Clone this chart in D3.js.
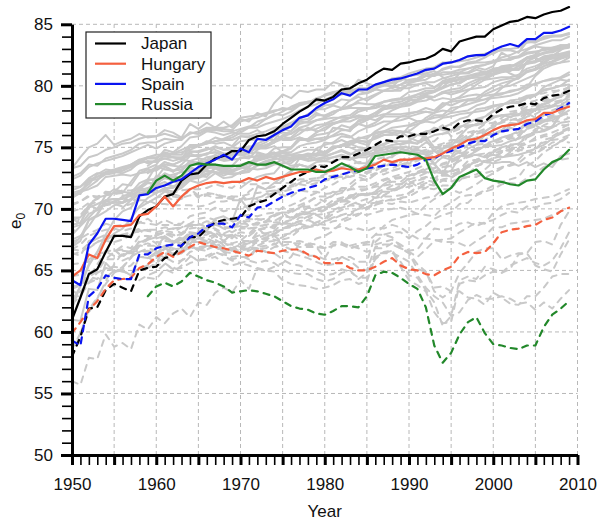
<!DOCTYPE html>
<html>
<head>
<meta charset="utf-8">
<script src="https://cdn.jsdelivr.net/npm/d3@7"></script>
<style>
  body { margin: 0; background: #ffffff; }
  text { font-family: "Liberation Sans", Arial, Helvetica, sans-serif; }
</style>
</head>
<body>
<svg id="chart" width="602" height="522"></svg>
<script>
// Period life expectancy at birth (e0), 1950-2009. Solid = female, dashed = male.

const yearTicks = [1950, 1960, 1970, 1980, 1990, 2000, 2010];
const e0Ticks = [50, 55, 60, 65, 70, 75, 80, 85];

// Highlighted countries
const japanF = [
  61.0, 62.8, 64.7, 65.1, 66.5, 67.8, 67.8, 67.7, 69.4, 69.9,
  70.2, 71.0, 71.2, 72.3, 72.8, 72.9, 73.6, 74.1, 74.3, 74.7,
  74.7, 75.6, 75.9, 76.0, 76.3, 76.9, 77.4, 77.9, 78.3, 78.9,
  78.8, 79.1, 79.7, 79.8, 80.2, 80.5, 81.0, 81.4, 81.3, 81.8,
  81.9, 82.1, 82.2, 82.5, 83.0, 82.8, 83.6, 83.8, 84.0, 84.0,
  84.6, 84.9, 85.2, 85.3, 85.6, 85.5, 85.8, 86.0, 86.1, 86.4];
const japanM = [
  58.0, 59.6, 61.9, 62.0, 63.4, 63.9, 63.6, 63.3, 65.0, 65.2,
  65.3, 66.0, 66.2, 67.0, 67.7, 67.7, 68.4, 68.9, 69.1, 69.2,
  69.3, 70.2, 70.5, 70.7, 71.2, 71.7, 72.2, 72.7, 73.0, 73.5,
  73.4, 73.8, 74.2, 74.2, 74.5, 74.8, 75.2, 75.6, 75.5, 75.9,
  75.9, 76.1, 76.1, 76.3, 76.6, 76.4, 77.0, 77.2, 77.2, 77.1,
  77.7, 78.1, 78.3, 78.4, 78.6, 78.5, 79.0, 79.2, 79.3, 79.6];
const hungaryF = [
  64.5, 65.0, 66.3, 66.0, 67.5, 68.6, 68.6, 68.7, 69.5, 69.6,
  70.2, 71.0, 70.2, 71.0, 71.6, 71.9, 72.1, 72.2, 72.1, 72.2,
  72.2, 72.5, 72.3, 72.6, 72.4, 72.6, 72.8, 73.0, 73.0, 73.2,
  73.0, 73.1, 73.3, 73.2, 73.2, 73.4, 73.6, 74.0, 73.8, 74.0,
  74.0, 74.1, 74.1, 74.2, 74.5, 74.9, 75.2, 75.6, 75.7, 76.0,
  76.4, 76.7, 76.8, 76.9, 77.2, 77.3, 77.8, 77.8, 78.1, 78.3];
const hungaryM = [
  59.9, 60.8, 61.8, 62.5, 63.5, 64.2, 64.3, 64.4, 65.2, 65.5,
  66.1, 66.5, 66.1, 66.5, 66.9, 67.3, 67.1, 66.9, 66.8, 66.6,
  66.4, 66.2, 66.6, 66.5, 66.4, 66.6, 66.7, 66.7, 66.3, 66.1,
  65.6, 65.6, 65.6, 65.2, 65.0, 65.0, 65.3, 65.7, 66.0, 65.4,
  65.1, 65.0, 64.7, 64.6, 65.0, 65.3, 66.2, 66.5, 66.4, 66.5,
  67.2, 68.1, 68.3, 68.4, 68.6, 68.7, 69.1, 69.3, 69.8, 70.1];
const spainF = [
  64.2, 63.8, 67.1, 68.0, 69.2, 69.2, 69.1, 69.0, 71.1, 71.2,
  71.7, 71.9, 72.2, 72.4, 72.9, 73.4, 73.7, 74.0, 74.4, 74.0,
  74.9, 74.6, 75.7, 75.6, 76.0, 76.4, 76.7, 77.4, 77.6, 78.2,
  78.6, 78.9, 79.4, 79.2, 79.7, 79.7, 80.1, 80.3, 80.5, 80.6,
  80.8, 81.0, 81.3, 81.4, 81.8, 81.9, 82.1, 82.4, 82.5, 82.5,
  82.9, 83.2, 83.4, 83.2, 83.8, 83.8, 84.3, 84.3, 84.5, 84.8];
const spainM = [
  59.3, 58.9, 62.9, 63.5, 64.6, 64.4, 64.3, 64.3, 66.3, 66.3,
  66.8, 67.0, 67.1, 67.0, 67.7, 68.0, 68.6, 68.8, 68.8, 68.5,
  69.5, 69.3, 70.1, 70.2, 70.6, 71.0, 71.3, 71.5, 71.7, 71.9,
  72.4, 72.6, 72.8, 73.0, 73.1, 73.3, 73.4, 73.5, 73.6, 73.5,
  73.4, 73.6, 74.0, 74.1, 74.5, 74.7, 75.0, 75.3, 75.5, 75.5,
  76.0, 76.3, 76.4, 76.5, 76.9, 77.1, 77.6, 77.8, 78.2, 78.6];
// Russia series begin in 1959
const russiaF = [
  71.3,
  72.3, 72.7, 72.3, 72.7, 73.5, 73.7, 73.6, 73.6, 73.5, 73.5,
  73.5, 73.8, 73.6, 73.6, 73.8, 73.5, 73.2, 73.2, 73.2, 73.0,
  73.0, 73.3, 73.7, 73.4, 73.0, 73.3, 74.3, 74.4, 74.5, 74.6,
  74.5, 74.4, 74.0, 72.3, 71.2, 71.7, 72.6, 72.9, 73.2, 72.5,
  72.3, 72.2, 72.0, 71.9, 72.3, 72.4, 73.2, 73.8, 74.1, 74.8];
const russiaM = [
  62.9,
  63.7, 64.0, 63.7, 64.1, 64.8, 64.5, 64.2, 64.0, 63.7, 63.2,
  63.3, 63.4, 63.3, 63.1, 62.9, 62.5, 62.1, 61.9, 61.8, 61.5,
  61.4, 61.7, 62.1, 62.1, 62.0, 62.9, 64.6, 64.9, 64.8, 64.4,
  63.9, 63.5, 62.0, 58.9, 57.5, 58.3, 59.8, 60.8, 61.2, 59.9,
  59.0, 58.9, 58.7, 58.6, 58.9, 58.9, 60.4, 61.4, 61.9, 62.5];

const highlightNames = ["Japan", "Hungary", "Spain", "Russia"];
const highlightColors = ["#000000", "#f4603f", "#0a14f0", "#22882a"];
const highlightStart = [1950, 1950, 1950, 1959];
const highlightFemale = [japanF, hungaryF, spainF, russiaF];
const highlightMale = [japanM, hungaryM, spainM, russiaM];

// Other countries, drawn in grey
const otherNames = ["Sweden", "Norway", "Netherlands", "Denmark", "Iceland", "Switzerland",
  "France", "England & Wales", "Scotland", "USA", "Canada", "Australia", "New Zealand",
  "Belgium", "Italy", "Austria", "West Germany", "East Germany", "Finland", "Portugal",
  "Ireland", "Czech Republic", "Slovakia", "Bulgaria", "Poland", "Latvia", "Lithuania",
  "Estonia", "Belarus", "Ukraine", "Taiwan", "Slovenia", "Israel", "Luxembourg"];
const otherStart = [1950, 1950, 1950, 1950, 1950, 1950, 1950, 1950, 1950, 1950, 1950, 1950, 1950,
  1950, 1950, 1950, 1956, 1956, 1950, 1950, 1950, 1950, 1950, 1950, 1958, 1959, 1959,
  1959, 1959, 1959, 1970, 1983, 1983, 1960];
const otherFemale = [
  [72.4, 72.7, 73.4, 73.7, 73.9, 74.1, 74.3, 74.6, 74.9, 75.2,
   74.9, 75.3, 75.5, 75.7, 76.2, 76.1, 76.5, 76.5, 76.5, 76.4,
   77.1, 77.3, 77.4, 77.7, 77.9, 78.2, 78.1, 78.6, 78.7, 78.8,
   78.8, 79.1, 79.4, 79.6, 79.7, 79.7, 80.0, 80.2, 79.9, 80.6,
   80.4, 80.5, 80.8, 80.8, 81.4, 81.6, 81.5, 81.8, 81.9, 81.9,
   82.0, 82.1, 82.1, 82.4, 82.7, 82.8, 82.9, 83.0, 83.2, 83.3],
  [73.3, 73.5, 74.2, 74.4, 74.8, 75.0, 75.3, 75.4, 75.7, 75.9,
   75.9, 76.1, 75.9, 75.7, 76.1, 76.3, 76.6, 76.6, 76.6, 76.8,
   77.4, 77.5, 77.6, 77.8, 78.0, 78.1, 78.1, 78.5, 78.7, 78.8,
   79.3, 79.5, 79.6, 79.5, 79.6, 79.4, 79.7, 79.6, 79.6, 79.8,
   79.8, 80.1, 80.3, 80.3, 80.6, 80.8, 81.0, 81.0, 81.3, 81.1,
   81.4, 81.5, 81.5, 81.9, 82.3, 82.5, 82.7, 82.7, 83.0, 83.1],
  [72.6, 72.9, 73.6, 73.5, 74.1, 74.3, 74.5, 74.8, 75.3, 75.4,
   75.4, 75.7, 75.6, 75.6, 76.2, 76.1, 76.4, 76.4, 76.3, 76.3,
   76.5, 76.7, 76.8, 77.3, 77.7, 77.6, 77.9, 78.4, 78.6, 79.0,
   79.2, 79.4, 79.7, 79.6, 79.8, 79.6, 79.8, 80.0, 80.0, 79.8,
   80.1, 80.1, 80.2, 79.9, 80.3, 80.4, 80.5, 80.6, 80.7, 80.5,
   80.6, 80.7, 80.7, 80.9, 81.4, 81.6, 81.9, 82.3, 82.3, 82.7],
  [71.5, 71.8, 72.3, 72.4, 72.8, 72.9, 73.3, 73.5, 73.9, 74.2,
   74.4, 74.4, 74.5, 74.6, 74.8, 75.1, 75.3, 75.5, 75.6, 75.6,
   75.9, 75.8, 75.9, 76.0, 76.4, 76.5, 76.3, 77.1, 77.0, 77.2,
   77.3, 77.4, 77.4, 77.4, 77.5, 77.5, 77.5, 77.7, 77.7, 77.7,
   77.8, 77.9, 77.9, 77.8, 78.0, 77.9, 78.3, 78.5, 78.7, 78.9,
   79.0, 79.1, 79.2, 79.4, 79.8, 80.2, 80.4, 80.5, 80.7, 81.1],
  [73.3, 74.2, 75.0, 75.3, 76.0, 75.2, 75.5, 75.7, 76.1, 75.8,
   75.9, 76.4, 76.2, 75.8, 76.9, 76.5, 77.0, 76.6, 77.1, 76.6,
   77.3, 77.1, 77.8, 77.5, 78.6, 79.3, 79.0, 79.6, 79.5, 79.7,
   79.7, 80.3, 80.1, 79.6, 80.5, 80.2, 80.0, 80.3, 79.8, 80.1,
   80.5, 80.6, 81.0, 81.2, 80.7, 80.3, 81.0, 81.1, 81.5, 81.3,
   81.6, 82.7, 82.3, 82.4, 82.9, 83.2, 83.1, 82.9, 83.3, 83.3],
  [70.9, 71.4, 72.2, 72.6, 72.9, 73.0, 72.9, 73.2, 73.8, 74.1,
   74.1, 74.6, 74.4, 74.4, 75.2, 75.2, 75.4, 75.8, 75.6, 75.8,
   76.2, 76.6, 77.1, 77.3, 77.6, 77.9, 78.3, 78.6, 78.6, 78.8,
   78.8, 79.2, 79.4, 79.4, 79.8, 79.8, 80.0, 80.1, 80.3, 80.6,
   80.8, 81.0, 81.2, 81.5, 81.8, 81.9, 82.0, 82.1, 82.3, 82.5,
   82.6, 83.0, 83.0, 83.1, 83.5, 83.6, 83.8, 84.0, 84.1, 84.2],
  [69.2, 68.8, 70.3, 70.0, 71.1, 71.3, 71.3, 72.2, 73.1, 73.3,
   73.6, 74.5, 74.2, 74.1, 75.0, 75.1, 75.5, 75.3, 75.4, 75.1,
   75.9, 75.9, 76.1, 76.3, 76.6, 76.7, 77.0, 77.4, 77.6, 78.0,
   78.4, 78.5, 78.9, 78.8, 79.3, 79.4, 79.7, 80.3, 80.6, 80.7,
   81.0, 81.2, 81.4, 81.5, 81.9, 81.9, 82.1, 82.4, 82.5, 82.6,
   82.8, 82.9, 82.9, 82.7, 83.6, 83.6, 84.0, 84.1, 84.1, 84.3],
  [71.2, 71.2, 72.4, 72.6, 73.0, 73.0, 73.1, 73.4, 73.7, 73.9,
   73.8, 74.1, 73.9, 74.1, 74.7, 74.6, 74.8, 75.1, 74.8, 75.0,
   75.5, 75.6, 75.6, 75.7, 76.0, 76.2, 76.1, 76.5, 76.4, 76.5,
   76.8, 77.0, 77.1, 77.4, 77.6, 77.5, 77.8, 78.1, 78.2, 78.3,
   78.8, 78.9, 79.2, 79.1, 79.5, 79.3, 79.5, 79.7, 79.8, 79.9,
   80.3, 80.5, 80.6, 80.6, 81.1, 81.3, 81.6, 81.8, 81.9, 82.3],
  [68.7, 68.9, 70.1, 70.4, 70.7, 70.8, 70.8, 71.1, 71.5, 71.5,
   71.3, 71.6, 71.4, 71.7, 72.3, 72.1, 72.4, 72.9, 72.5, 72.6,
   73.0, 73.3, 73.2, 73.3, 73.6, 73.7, 73.7, 74.3, 74.4, 74.3,
   74.5, 74.9, 75.2, 75.3, 75.6, 75.4, 75.8, 76.0, 76.1, 75.9,
   76.7, 76.9, 77.1, 77.0, 77.4, 77.5, 77.7, 77.8, 77.9, 78.0,
   78.3, 78.5, 78.6, 78.7, 79.1, 79.2, 79.6, 79.8, 80.0, 80.5],
  [71.1, 71.4, 71.6, 71.9, 72.6, 72.7, 72.8, 72.7, 72.9, 73.2,
   73.1, 73.6, 73.5, 73.4, 73.7, 73.8, 73.9, 74.2, 74.0, 74.4,
   74.9, 75.0, 75.1, 75.4, 75.9, 76.6, 76.8, 77.2, 77.3, 77.8,
   77.5, 77.9, 78.1, 78.2, 78.2, 78.2, 78.2, 78.4, 78.3, 78.5,
   78.8, 78.9, 79.1, 78.8, 79.0, 78.9, 79.0, 79.2, 79.3, 79.2,
   79.3, 79.4, 79.5, 79.7, 80.1, 80.1, 80.4, 80.6, 80.6, 80.9],
  [70.9, 71.3, 71.8, 72.3, 73.0, 73.2, 73.4, 73.6, 74.0, 74.2,
   74.2, 74.4, 74.5, 74.8, 75.1, 75.2, 75.3, 75.5, 75.7, 76.0,
   76.4, 76.6, 76.6, 76.9, 77.1, 77.3, 77.6, 78.0, 78.3, 78.5,
   78.9, 79.1, 79.3, 79.5, 79.7, 79.8, 80.0, 80.1, 80.2, 80.4,
   80.8, 80.9, 81.0, 80.8, 81.1, 81.1, 81.3, 81.4, 81.6, 81.7,
   81.9, 82.1, 82.2, 82.3, 82.6, 82.7, 83.0, 83.1, 83.2, 83.3],
  [71.8, 71.8, 72.5, 72.9, 72.9, 73.0, 73.1, 73.6, 74.0, 73.7,
   73.9, 74.3, 74.2, 74.0, 73.9, 74.1, 74.0, 74.4, 74.1, 74.5,
   74.5, 74.9, 75.3, 75.6, 75.6, 76.5, 76.8, 77.3, 77.7, 78.1,
   78.1, 78.4, 78.2, 78.8, 79.1, 78.8, 79.2, 79.6, 79.6, 79.6,
   80.2, 80.4, 80.5, 80.9, 80.9, 81.0, 81.1, 81.4, 81.6, 81.7,
   82.0, 82.3, 82.5, 82.8, 83.0, 83.3, 83.5, 83.7, 83.7, 84.0],
  [71.3, 71.5, 72.0, 72.8, 73.2, 73.1, 73.3, 73.6, 73.8, 73.8,
   73.9, 74.1, 74.2, 74.2, 74.3, 74.3, 74.5, 74.6, 74.4, 74.4,
   74.7, 75.1, 75.0, 75.2, 75.4, 75.9, 75.7, 76.1, 76.6, 76.3,
   76.4, 76.9, 77.1, 77.1, 77.4, 77.4, 77.2, 77.6, 78.0, 78.3,
   78.4, 78.7, 78.8, 79.1, 79.5, 79.7, 79.8, 80.2, 80.5, 80.6,
   80.9, 81.1, 81.2, 81.6, 81.8, 81.9, 82.2, 82.3, 82.4, 82.7],
  [68.5, 68.7, 69.6, 69.9, 70.6, 70.5, 71.0, 71.3, 72.1, 72.4,
   73.5, 73.2, 73.1, 73.2, 73.9, 73.7, 73.8, 74.2, 74.0, 74.2,
   74.6, 74.5, 75.0, 75.0, 75.4, 75.7, 75.8, 76.4, 76.4, 76.8,
   76.9, 77.2, 77.5, 77.6, 78.1, 78.1, 78.2, 78.7, 78.9, 79.0,
   79.5, 79.6, 79.8, 79.8, 80.4, 80.6, 80.7, 80.8, 80.9, 80.9,
   81.0, 81.3, 81.3, 81.3, 81.9, 82.0, 82.4, 82.5, 82.5, 82.7],
  [67.5, 67.8, 68.6, 69.6, 70.7, 70.8, 70.5, 71.3, 71.7, 72.4,
   72.3, 72.9, 72.6, 73.1, 73.7, 73.8, 74.2, 74.3, 74.0, 74.4,
   74.9, 75.0, 75.2, 75.1, 75.6, 75.9, 76.1, 76.6, 76.8, 77.2,
   77.4, 77.7, 78.2, 78.3, 78.8, 79.0, 79.3, 79.6, 79.9, 80.1,
   80.3, 80.4, 80.8, 81.0, 81.3, 81.5, 81.6, 81.9, 82.0, 82.3,
   82.7, 82.9, 82.9, 82.7, 83.6, 83.5, 83.9, 84.0, 84.0, 84.2],
  [67.9, 68.6, 69.3, 70.0, 70.4, 70.5, 70.5, 70.8, 71.5, 71.7,
   71.9, 72.8, 72.6, 72.5, 73.4, 73.1, 73.5, 73.4, 73.3, 73.0,
   73.4, 73.7, 74.1, 74.3, 74.5, 74.7, 75.0, 75.6, 75.6, 76.0,
   76.1, 76.3, 76.8, 76.6, 77.1, 77.3, 77.6, 78.2, 78.6, 78.7,
   79.0, 79.1, 79.3, 79.5, 79.8, 80.1, 80.3, 80.8, 81.0, 81.1,
   81.2, 81.6, 81.7, 81.6, 82.2, 82.3, 82.7, 82.9, 83.1, 83.2],
  [71.1, 71.0, 71.6, 72.1,
   72.0, 72.6, 72.6, 72.6, 73.3, 73.2, 73.4, 73.6, 73.4, 73.4,
   73.6, 73.8, 74.0, 74.2, 74.5, 74.6, 74.9, 75.6, 75.7, 76.2,
   76.6, 76.9, 77.2, 77.4, 77.9, 78.1, 78.4, 78.7, 78.8, 78.9,
   79.1, 79.3, 79.6, 79.6, 79.9, 80.1, 80.2, 80.6, 80.8, 81.0,
   81.2, 81.4, 81.4, 81.4, 81.9, 82.0, 82.3, 82.5, 82.6, 82.8],
  [70.1, 70.7, 71.2, 71.5,
   71.6, 72.0, 71.8, 72.2, 72.8, 72.9, 73.3, 73.4, 73.0, 73.1,
   73.3, 73.4, 73.9, 74.1, 74.3, 74.3, 74.4, 74.6, 74.8, 74.8,
   74.6, 75.1, 75.1, 75.2, 75.5, 75.5, 75.7, 76.0, 76.0, 76.2,
   76.3, 76.8, 77.4, 77.8, 78.3, 78.8, 79.1, 79.6, 80.1, 80.5,
   80.9, 81.2, 81.3, 81.3, 81.8, 82.0, 82.3, 82.4, 82.6, 82.6],
  [69.3, 69.3, 70.3, 70.9, 71.1, 71.6, 71.4, 71.3, 71.8, 72.2,
   71.9, 72.2, 71.8, 72.0, 72.4, 72.5, 72.8, 73.3, 73.3, 73.5,
   74.2, 74.1, 74.8, 75.2, 75.4, 76.0, 76.3, 76.9, 77.1, 77.6,
   77.6, 77.9, 78.1, 78.4, 78.6, 78.5, 78.5, 78.7, 78.8, 78.9,
   78.9, 79.3, 79.4, 79.5, 80.2, 80.3, 80.6, 80.6, 80.8, 81.0,
   81.0, 81.5, 81.5, 81.8, 82.3, 82.5, 83.1, 83.1, 83.3, 83.3],
  [61.0, 60.9, 63.5, 63.4, 65.6, 64.9, 65.0, 64.6, 66.1, 66.0,
   66.5, 66.0, 67.2, 67.5, 67.1, 68.2, 68.2, 69.2, 69.4, 69.0,
   70.8, 69.9, 71.8, 71.6, 72.1, 72.6, 73.1, 74.1, 74.0, 74.9,
   75.2, 75.4, 75.9, 75.8, 76.3, 76.6, 76.8, 77.1, 77.1, 77.5,
   77.5, 77.7, 77.9, 77.8, 78.5, 78.7, 78.8, 78.9, 79.0, 79.5,
   79.9, 80.2, 80.4, 80.6, 81.2, 81.3, 82.1, 82.2, 82.3, 82.5],
  [66.9, 67.4, 69.1, 69.4, 69.8, 70.3, 70.5, 70.8, 71.2, 71.3,
   71.9, 71.9, 72.3, 71.9, 72.5, 72.7, 72.6, 73.3, 73.1, 73.0,
   73.5, 73.6, 73.6, 73.9, 74.1, 74.6, 74.6, 75.1, 75.3, 75.4,
   75.6, 76.0, 76.4, 76.4, 76.9, 76.7, 77.0, 77.5, 77.5, 77.5,
   77.7, 77.9, 78.2, 78.0, 78.6, 78.4, 78.7, 78.9, 78.8, 78.9,
   79.2, 79.8, 80.3, 80.7, 81.2, 81.4, 81.8, 82.0, 82.3, 82.5],
  [67.0, 67.7, 69.1, 69.5, 70.6, 71.4, 72.0, 71.9, 72.9, 73.0,
   73.4, 73.5, 73.1, 73.4, 73.6, 73.6, 73.7, 73.6, 73.2, 72.9,
   72.9, 73.0, 73.6, 73.5, 73.7, 74.0, 74.0, 74.2, 74.1, 74.0,
   73.9, 74.2, 74.3, 74.0, 74.3, 74.4, 74.6, 75.0, 75.2, 75.3,
   75.5, 76.0, 76.3, 76.4, 76.6, 76.9, 77.3, 77.5, 78.1, 78.2,
   78.4, 78.5, 78.6, 78.6, 79.0, 79.2, 79.9, 80.2, 80.5, 80.4],
  [61.9, 63.8, 65.5, 66.5, 67.9, 69.1, 69.8, 70.1, 71.1, 71.4,
   72.7, 72.6, 72.8, 73.0, 73.1, 73.1, 73.4, 73.3, 72.9, 72.8,
   72.9, 73.1, 73.6, 73.8, 74.0, 74.2, 74.2, 74.4, 74.3, 74.4,
   74.3, 74.5, 74.7, 74.4, 74.8, 74.9, 75.0, 75.3, 75.5, 75.2,
   75.4, 75.3, 76.1, 76.6, 76.4, 76.4, 76.7, 76.8, 76.8, 77.0,
   77.5, 77.6, 77.7, 77.7, 78.0, 78.1, 78.3, 78.4, 78.7, 79.1],
  [62.5, 63.7, 65.4, 66.5, 67.4, 68.0, 68.4, 69.2, 70.2, 70.9,
   71.3, 71.7, 71.7, 72.1, 72.6, 72.9, 73.1, 73.0, 72.7, 73.0,
   73.6, 73.1, 73.5, 73.7, 73.7, 73.5, 73.3, 73.6, 73.4, 73.8,
   73.9, 73.8, 74.1, 74.0, 74.2, 74.2, 74.5, 74.6, 74.7, 74.6,
   74.7, 74.4, 74.6, 74.7, 74.6, 74.9, 74.6, 74.3, 74.7, 75.1,
   75.1, 75.2, 75.5, 75.7, 76.0, 76.2, 76.3, 76.6, 77.0, 77.1],
  [70.1, 70.5,
   70.9, 71.4, 71.2, 71.9, 72.4, 72.6, 72.9, 73.0, 72.9, 73.0,
   73.3, 73.4, 74.1, 74.2, 74.5, 74.5, 74.4, 74.3, 74.5, 74.4,
   74.4, 74.9, 75.2, 75.0, 74.7, 74.8, 75.1, 75.2, 75.5, 75.5,
   75.5, 75.3, 75.7, 76.0, 76.1, 76.4, 76.6, 77.0, 77.3, 77.5,
   77.9, 78.4, 78.8, 78.9, 79.2, 79.3, 79.7, 79.8, 80.0, 80.1],
  [73.0,
   73.2, 73.8, 73.6, 73.9, 74.5, 74.2, 74.5, 74.6, 74.3, 74.5,
   74.4, 74.2, 74.3, 74.3, 74.2, 73.9, 73.5, 73.6, 73.4, 73.2,
   73.1, 73.2, 73.4, 73.5, 73.2, 73.5, 74.7, 74.8, 75.0, 75.0,
   74.6, 74.6, 74.4, 73.6, 72.9, 73.1, 74.2, 74.9, 75.2, 76.0,
   76.1, 76.3, 76.6, 76.4, 77.1, 76.8, 76.4, 76.7, 77.6, 78.0],
  [72.3,
   72.5, 73.4, 73.0, 73.6, 74.3, 74.4, 74.4, 75.0, 74.8, 74.8,
   75.0, 74.8, 74.9, 74.9, 75.1, 74.6, 74.4, 74.3, 74.3, 74.4,
   75.4, 75.3, 75.6, 75.3, 75.0, 74.9, 76.2, 76.3, 76.2, 76.3,
   76.2, 76.0, 75.9, 75.0, 74.9, 75.1, 75.9, 76.6, 76.9, 77.0,
   77.4, 77.6, 77.5, 77.7, 77.8, 77.4, 77.1, 77.2, 77.6, 78.6],
  [71.6,
   72.1, 72.5, 72.3, 72.7, 73.3, 73.2, 73.9, 74.1, 73.9, 74.0,
   74.1, 74.3, 74.1, 74.3, 74.5, 74.3, 74.1, 74.3, 74.3, 74.1,
   74.2, 74.5, 74.8, 74.5, 74.4, 74.5, 74.9, 75.0, 75.0, 74.6,
   74.6, 74.8, 74.6, 73.7, 72.8, 74.2, 75.4, 75.8, 75.5, 76.1,
   76.0, 76.4, 77.0, 76.9, 77.8, 78.1, 78.5, 78.8, 79.2, 80.0],
  [73.5,
   74.0, 74.8, 74.6, 75.1, 75.8, 75.9, 76.3, 76.2, 76.0, 76.2,
   76.1, 76.1, 76.4, 76.0, 76.2, 75.6, 75.6, 75.8, 75.6, 75.7,
   75.8, 75.9, 76.1, 75.9, 75.4, 75.2, 75.9, 76.2, 76.4, 76.3,
   75.8, 75.5, 75.6, 74.7, 74.2, 74.0, 74.3, 74.3, 74.4, 74.2,
   74.4, 74.2, 74.3, 74.4, 74.6, 74.9, 75.2, 75.7, 76.2, 76.5],
  [72.9,
   73.3, 73.8, 73.6, 73.9, 74.6, 74.7, 74.9, 74.8, 74.5, 74.5,
   74.4, 74.5, 74.6, 74.4, 74.6, 74.1, 74.0, 74.1, 73.9, 74.0,
   74.1, 74.2, 74.4, 74.2, 73.7, 73.7, 74.6, 74.6, 74.8, 75.0,
   75.0, 74.4, 74.0, 73.0, 72.9, 72.6, 72.9, 73.4, 74.0, 73.8,
   73.7, 73.8, 73.8, 73.5, 73.8, 73.4, 73.7, 73.4, 74.3, 74.5],
  [71.7, 72.2, 72.6, 72.8, 72.9, 73.7, 73.9, 74.1, 74.3, 74.5,
   74.6, 74.9, 75.2, 75.5, 75.7, 75.9, 76.1, 76.3, 76.6, 76.7,
   76.8, 77.1, 77.2, 77.4, 77.5, 77.8, 77.9, 78.0, 78.4, 78.6,
   79.2, 79.3, 79.6, 79.7, 79.9, 80.8, 81.4, 81.7, 81.9, 82.0],
  [75.3, 75.8, 75.7, 76.3, 76.7, 77.1, 77.2,
   77.4, 77.1, 77.2, 77.6, 77.6, 78.2, 78.3, 78.8, 78.8, 79.3,
   79.6, 79.9, 80.0, 80.3, 80.6, 80.9, 81.6, 81.9, 82.2, 82.4],
  [76.5, 76.9, 77.2, 77.6, 78.1, 78.3, 78.5,
   78.5, 78.8, 79.1, 79.1, 79.4, 79.5, 79.6, 80.0, 80.3, 80.7,
   81.0, 81.4, 81.6, 81.8, 82.3, 82.4, 82.6, 82.8, 83.0, 83.4],
  [72.2, 72.5, 72.4, 72.3, 72.8, 72.6, 73.2, 73.6, 73.4, 73.2,
   73.3, 73.4, 74.5, 74.3, 74.9, 75.0, 75.0, 75.8, 75.5, 75.7,
   75.6, 76.6, 76.5, 76.3, 77.2, 77.4, 77.8, 78.3, 78.4, 78.5,
   78.5, 78.9, 79.4, 79.6, 79.9, 80.5, 80.2, 80.6, 80.7, 80.7,
   81.3, 81.4, 81.0, 80.7, 82.0, 82.3, 81.8, 82.4, 82.9, 83.3]
];
const otherMale = [
  [69.8, 70.0, 70.5, 70.8, 71.1, 71.2, 71.3, 71.1, 71.5, 71.6,
   71.2, 71.6, 71.3, 71.5, 71.6, 71.6, 71.7, 72.0, 71.8, 71.7,
   72.2, 72.0, 72.0, 72.1, 72.1, 72.1, 72.1, 72.4, 72.4, 72.5,
   72.8, 73.1, 73.4, 73.6, 73.8, 73.8, 74.0, 74.2, 74.2, 74.8,
   74.8, 74.9, 75.4, 75.5, 76.1, 76.2, 76.5, 76.7, 76.9, 77.0,
   77.4, 77.6, 77.7, 77.9, 78.3, 78.4, 78.7, 78.9, 79.1, 79.3],
  [70.3, 70.6, 71.1, 71.0, 71.3, 71.2, 71.4, 71.2, 71.3, 71.4,
   71.3, 71.5, 71.0, 70.9, 71.1, 71.0, 71.3, 71.2, 71.0, 71.0,
   71.0, 71.2, 71.3, 71.4, 71.5, 71.7, 71.9, 72.2, 72.3, 72.3,
   72.3, 72.6, 72.6, 72.6, 72.8, 72.6, 72.9, 72.8, 73.1, 73.3,
   73.4, 74.0, 74.2, 74.3, 74.8, 74.8, 75.3, 75.5, 75.5, 75.6,
   76.0, 76.2, 76.5, 77.0, 77.5, 77.7, 78.1, 78.3, 78.4, 78.7],
  [70.4, 70.6, 71.0, 70.9, 71.4, 71.3, 71.5, 71.5, 71.7, 71.5,
   71.5, 71.6, 71.2, 71.0, 71.6, 71.1, 71.2, 71.2, 70.9, 70.8,
   70.8, 70.9, 70.8, 71.2, 71.5, 71.4, 71.6, 72.1, 72.1, 72.5,
   72.6, 72.7, 72.8, 72.9, 73.0, 72.9, 73.1, 73.5, 73.6, 73.6,
   73.8, 74.1, 74.2, 74.0, 74.6, 74.6, 74.7, 75.2, 75.2, 75.3,
   75.5, 75.8, 76.0, 76.3, 76.9, 77.2, 77.6, 78.0, 78.3, 78.5],
  [69.1, 69.3, 69.8, 69.9, 70.3, 70.4, 70.2, 70.4, 70.7, 70.7,
   70.4, 70.4, 70.3, 70.3, 70.3, 70.2, 70.3, 70.6, 70.6, 70.7,
   70.7, 70.8, 70.9, 71.1, 71.3, 71.1, 71.0, 71.5, 71.4, 71.4,
   71.2, 71.3, 71.5, 71.6, 71.6, 71.6, 71.8, 71.9, 72.0, 72.0,
   72.0, 72.3, 72.5, 72.5, 72.7, 72.7, 73.1, 73.6, 73.8, 74.2,
   74.5, 74.7, 74.8, 75.0, 75.3, 75.8, 76.0, 76.2, 76.5, 76.9],
  [67.8, 69.5, 70.3, 70.6, 70.4, 70.6, 70.9, 70.6, 70.9, 70.5,
   70.9, 71.1, 70.7, 70.8, 71.6, 70.9, 71.1, 70.9, 70.9, 71.0,
   70.7, 71.4, 71.9, 71.6, 71.8, 72.3, 73.0, 73.6, 73.4, 73.6,
   73.5, 73.9, 74.2, 74.0, 74.5, 74.6, 74.8, 75.2, 74.3, 75.0,
   75.1, 75.0, 75.9, 76.4, 76.8, 75.9, 76.2, 76.6, 77.0, 77.5,
   78.0, 78.4, 78.6, 79.0, 78.8, 79.3, 79.4, 79.6, 79.6, 79.9],
  [66.7, 67.1, 67.8, 68.1, 68.3, 68.4, 68.2, 68.4, 68.9, 69.2,
   68.7, 69.1, 68.8, 68.8, 69.4, 69.6, 69.7, 70.1, 69.8, 70.0,
   70.0, 70.3, 70.6, 70.9, 71.2, 71.5, 71.8, 72.0, 71.9, 72.1,
   72.3, 72.4, 72.7, 72.6, 73.0, 73.2, 73.3, 73.6, 73.7, 73.9,
   74.0, 74.1, 74.4, 74.9, 75.2, 75.4, 75.8, 76.2, 76.4, 76.9,
   77.0, 77.4, 77.9, 78.0, 78.6, 78.8, 79.1, 79.4, 79.7, 79.8],
  [63.4, 62.9, 64.5, 64.3, 65.2, 65.3, 65.2, 66.1, 67.0, 67.0,
   67.0, 67.7, 67.3, 67.2, 68.0, 67.8, 68.2, 67.9, 67.9, 67.6,
   68.4, 68.4, 68.5, 68.7, 68.9, 68.9, 69.1, 69.5, 69.7, 70.0,
   70.2, 70.4, 70.7, 70.7, 71.1, 71.2, 71.4, 72.0, 72.4, 72.5,
   72.7, 72.9, 73.1, 73.3, 73.7, 73.9, 74.1, 74.6, 74.8, 75.0,
   75.3, 75.5, 75.7, 75.8, 76.7, 76.8, 77.2, 77.5, 77.6, 77.8],
  [66.4, 66.2, 67.4, 67.6, 67.9, 67.7, 67.9, 68.0, 68.2, 68.3,
   68.0, 68.0, 67.9, 67.9, 68.4, 68.5, 68.4, 68.7, 68.5, 68.5,
   69.0, 69.2, 69.1, 69.2, 69.5, 69.7, 69.7, 70.1, 70.2, 70.3,
   70.8, 71.1, 71.3, 71.6, 71.8, 71.8, 72.1, 72.4, 72.6, 72.8,
   73.0, 73.3, 73.6, 73.7, 74.2, 74.2, 74.5, 74.7, 74.9, 75.1,
   75.5, 75.8, 76.0, 76.2, 76.7, 77.0, 77.4, 77.6, 77.9, 78.5],
  [64.6, 64.6, 65.9, 66.3, 66.5, 66.2, 66.2, 66.5, 66.6, 66.5,
   66.2, 66.4, 66.2, 66.4, 66.9, 66.7, 66.6, 67.3, 66.7, 66.8,
   67.2, 67.4, 67.2, 67.4, 67.8, 67.9, 68.0, 68.4, 68.5, 68.6,
   69.0, 69.3, 69.5, 69.7, 70.0, 70.1, 70.3, 70.6, 70.8, 70.8,
   71.3, 71.6, 72.0, 71.9, 72.3, 72.2, 72.5, 72.6, 72.6, 72.9,
   73.1, 73.4, 73.5, 73.7, 74.3, 74.6, 75.0, 75.1, 75.4, 75.9],
  [65.5, 65.6, 65.7, 66.0, 66.6, 66.6, 66.7, 66.4, 66.5, 66.8,
   66.6, 67.0, 66.8, 66.6, 66.8, 66.8, 66.7, 67.0, 66.6, 66.8,
   67.0, 67.2, 67.4, 67.6, 68.2, 68.8, 69.1, 69.5, 69.6, 70.0,
   70.0, 70.4, 70.8, 71.0, 71.1, 71.2, 71.2, 71.4, 71.4, 71.7,
   71.8, 72.0, 72.3, 72.2, 72.4, 72.5, 73.0, 73.6, 73.8, 73.9,
   74.1, 74.3, 74.4, 74.7, 75.1, 75.2, 75.4, 75.6, 75.7, 76.0],
  [66.3, 66.5, 66.9, 67.3, 67.8, 67.8, 67.8, 67.8, 68.2, 68.3,
   68.3, 68.5, 68.4, 68.5, 68.7, 68.7, 68.8, 68.9, 69.0, 69.2,
   69.4, 69.5, 69.4, 69.6, 69.7, 70.1, 70.3, 70.6, 71.0, 71.3,
   71.7, 72.0, 72.4, 72.7, 73.0, 73.0, 73.3, 73.5, 73.7, 73.8,
   74.4, 74.6, 74.8, 74.8, 75.1, 75.2, 75.6, 75.8, 76.1, 76.3,
   76.7, 77.0, 77.2, 77.4, 77.8, 78.0, 78.3, 78.5, 78.7, 78.9],
  [66.7, 66.6, 67.2, 67.6, 67.4, 67.3, 67.5, 67.9, 68.3, 67.7,
   67.9, 68.1, 67.9, 67.6, 67.2, 67.6, 67.4, 67.8, 67.4, 67.9,
   67.4, 68.0, 68.6, 68.7, 68.4, 69.4, 69.8, 70.1, 70.5, 71.0,
   71.0, 71.4, 71.3, 72.0, 72.6, 72.3, 72.8, 73.1, 73.1, 73.3,
   73.9, 74.3, 74.6, 75.0, 75.0, 75.2, 75.5, 75.8, 76.2, 76.5,
   76.6, 77.1, 77.4, 77.8, 78.1, 78.5, 78.8, 79.1, 79.2, 79.4],
  [67.3, 67.6, 68.0, 68.3, 68.8, 68.6, 68.7, 68.8, 68.9, 68.8,
   68.7, 68.7, 68.7, 68.7, 68.6, 68.4, 68.4, 68.8, 68.4, 68.1,
   68.5, 68.6, 68.9, 68.9, 69.4, 69.7, 69.2, 69.6, 70.1, 70.0,
   70.2, 70.7, 70.9, 71.1, 71.2, 71.2, 70.9, 71.1, 71.5, 71.9,
   72.5, 72.9, 73.2, 73.6, 74.3, 74.3, 74.6, 75.2, 75.6, 76.0,
   76.1, 76.4, 76.8, 77.2, 77.6, 78.0, 78.1, 78.3, 78.5, 78.8],
  [63.5, 63.8, 64.8, 65.1, 65.9, 65.9, 66.3, 66.6, 67.3, 67.5,
   67.7, 67.6, 67.4, 67.3, 68.0, 67.8, 67.9, 68.3, 67.8, 67.9,
   67.8, 67.8, 68.3, 68.4, 68.6, 68.8, 69.1, 69.8, 69.7, 70.0,
   70.0, 70.5, 70.8, 70.9, 71.2, 71.1, 71.4, 72.0, 72.2, 72.2,
   72.7, 72.9, 73.0, 72.9, 73.4, 73.5, 73.9, 74.2, 74.4, 74.5,
   74.6, 75.0, 75.2, 75.3, 76.0, 76.3, 76.8, 77.1, 77.1, 77.4],
  [63.7, 63.8, 64.4, 65.5, 66.5, 66.7, 66.1, 66.7, 67.1, 67.6,
   67.2, 67.8, 67.3, 67.5, 68.1, 67.9, 68.5, 68.4, 68.0, 68.3,
   69.0, 69.0, 69.2, 69.0, 69.6, 69.7, 69.9, 70.3, 70.6, 70.9,
   70.6, 71.1, 71.7, 71.7, 72.3, 72.4, 72.8, 73.2, 73.3, 73.6,
   73.7, 73.9, 74.3, 74.6, 74.9, 75.0, 75.3, 75.6, 75.8, 76.2,
   76.9, 77.2, 77.3, 77.2, 78.0, 78.1, 78.5, 78.7, 78.8, 79.2],
  [62.5, 63.3, 64.0, 64.8, 65.2, 65.0, 65.1, 65.4, 66.1, 66.1,
   65.6, 66.8, 66.4, 66.3, 67.1, 66.6, 67.0, 66.9, 66.5, 66.4,
   66.5, 66.6, 67.0, 67.3, 67.4, 67.7, 68.1, 68.5, 68.6, 68.9,
   69.0, 69.2, 69.5, 69.5, 70.0, 70.4, 70.9, 71.5, 71.9, 72.0,
   72.4, 72.6, 72.9, 73.0, 73.4, 73.5, 73.9, 74.3, 74.8, 75.0,
   75.4, 75.8, 75.9, 76.0, 76.5, 76.7, 77.1, 77.4, 77.7, 77.7],
  [66.6, 66.5, 67.0, 67.2,
   66.9, 67.4, 67.3, 67.2, 67.8, 67.6, 67.7, 67.9, 67.4, 67.2,
   67.4, 67.4, 67.8, 68.0, 68.2, 68.3, 68.7, 69.3, 69.3, 69.8,
   69.9, 70.3, 70.6, 70.9, 71.4, 71.6, 71.9, 72.3, 72.5, 72.6,
   72.7, 73.0, 73.3, 73.3, 73.6, 73.8, 74.1, 74.6, 74.9, 75.2,
   75.4, 75.7, 75.8, 76.0, 76.6, 76.8, 77.2, 77.4, 77.6, 77.8],
  [65.8, 66.1, 66.5, 66.6,
   66.4, 67.0, 66.7, 66.8, 67.8, 67.8, 68.1, 68.1, 67.6, 67.8,
   68.1, 68.0, 68.3, 68.5, 68.7, 68.8, 68.8, 69.0, 69.1, 68.8,
   68.7, 69.0, 69.1, 69.4, 69.6, 69.5, 69.7, 69.9, 70.0, 70.1,
   69.9, 69.6, 70.3, 70.8, 71.2, 71.7, 72.3, 72.9, 73.4, 73.9,
   74.7, 75.0, 75.1, 75.3, 75.8, 76.1, 76.4, 76.7, 76.8, 76.8],
  [62.9, 62.9, 64.0, 64.3, 64.4, 65.0, 64.9, 64.7, 65.2, 65.4,
   65.4, 65.6, 65.1, 65.2, 65.6, 65.8, 66.0, 66.4, 66.3, 66.1,
   66.2, 65.9, 66.9, 67.0, 67.1, 67.5, 67.7, 68.3, 68.5, 68.9,
   69.2, 69.9, 70.2, 70.6, 70.4, 70.1, 70.5, 70.7, 70.7, 70.9,
   71.0, 71.4, 71.7, 72.1, 72.8, 72.8, 73.0, 73.4, 73.5, 73.7,
   74.2, 74.6, 74.9, 75.2, 75.4, 75.6, 75.9, 75.9, 76.3, 76.6],
  [56.0, 55.7, 57.9, 57.8, 59.8, 58.8, 59.1, 58.6, 60.6, 60.2,
   61.2, 60.7, 61.5, 61.9, 61.2, 62.4, 62.2, 63.2, 63.6, 63.2,
   64.2, 63.5, 65.2, 65.0, 65.3, 65.6, 66.1, 67.2, 67.0, 67.6,
   67.8, 68.2, 68.9, 69.2, 69.5, 70.0, 70.4, 70.5, 70.4, 70.6,
   70.5, 70.7, 70.9, 71.0, 71.6, 71.6, 71.3, 71.6, 72.0, 72.5,
   72.9, 73.3, 73.6, 74.0, 74.7, 74.8, 75.6, 75.8, 76.1, 76.4],
  [64.5, 64.7, 66.8, 67.3, 67.6, 67.8, 67.9, 68.1, 68.4, 68.2,
   68.1, 68.3, 68.4, 68.0, 68.7, 68.8, 68.5, 69.1, 68.7, 68.5,
   68.8, 68.8, 68.7, 69.0, 69.0, 69.4, 69.3, 69.6, 69.6, 69.6,
   69.9, 70.3, 70.6, 70.6, 71.1, 71.1, 71.3, 71.6, 71.6, 71.7,
   72.1, 72.4, 72.6, 72.4, 73.1, 73.0, 73.3, 73.5, 73.5, 73.7,
   74.0, 74.6, 75.2, 75.8, 76.5, 76.8, 77.2, 77.4, 77.6, 77.4],
  [62.3, 62.9, 64.5, 64.9, 65.9, 66.5, 67.0, 66.8, 67.8, 67.8,
   67.6, 67.8, 67.3, 67.6, 67.6, 67.3, 67.4, 67.1, 66.5, 65.9,
   66.1, 66.1, 66.9, 66.5, 66.9, 67.0, 67.2, 67.2, 67.1, 66.9,
   66.8, 67.0, 67.1, 66.8, 67.0, 67.3, 67.3, 67.9, 68.1, 68.1,
   67.6, 68.2, 68.6, 69.2, 69.5, 69.7, 70.4, 70.5, 71.1, 71.4,
   71.6, 72.0, 72.1, 72.0, 72.5, 72.9, 73.4, 73.7, 74.0, 74.1],
  [58.0, 59.9, 61.6, 62.7, 64.1, 65.5, 66.4, 66.4, 67.4, 67.5,
   67.9, 68.0, 67.7, 68.0, 68.1, 68.0, 68.2, 67.9, 67.0, 66.8,
   66.7, 66.7, 67.4, 67.7, 67.5, 67.3, 67.3, 67.4, 67.2, 67.1,
   66.8, 67.3, 67.3, 66.8, 67.0, 67.1, 67.1, 67.3, 67.5, 67.1,
   66.6, 66.7, 67.6, 68.4, 68.3, 68.4, 68.8, 68.9, 68.6, 68.9,
   69.1, 69.5, 69.8, 69.7, 70.2, 70.1, 70.4, 70.5, 70.8, 71.3],
  [58.6, 59.9, 61.8, 62.8, 63.9, 64.8, 65.3, 66.0, 67.0, 67.5,
   67.8, 68.2, 68.1, 68.5, 68.8, 69.2, 69.3, 69.1, 68.8, 68.9,
   69.2, 68.6, 68.8, 69.0, 69.0, 68.7, 68.6, 68.8, 68.6, 68.7,
   68.4, 68.4, 68.6, 68.3, 68.4, 68.2, 68.5, 68.4, 68.7, 68.5,
   68.0, 67.6, 67.6, 67.5, 67.3, 67.3, 67.2, 66.9, 67.4, 67.8,
   68.5, 68.5, 68.8, 68.9, 69.0, 69.1, 69.2, 69.5, 69.8, 70.1],
  [64.2, 64.6,
   64.9, 65.5, 65.1, 65.8, 66.5, 66.7, 67.0, 66.9, 66.6, 66.7,
   66.6, 66.8, 67.6, 67.5, 67.8, 67.3, 67.3, 66.9, 66.9, 66.9,
   66.0, 67.1, 67.2, 67.0, 66.8, 66.5, 66.8, 66.8, 67.2, 66.8,
   66.5, 66.1, 66.7, 67.4, 67.5, 67.6, 68.1, 68.5, 68.9, 68.8,
   69.7, 70.2, 70.4, 70.5, 70.6, 70.8, 70.9, 71.0, 71.3, 71.6],
  [65.2,
   65.6, 66.1, 65.7, 65.8, 66.2, 65.8, 65.9, 66.1, 65.6, 65.4,
   65.6, 65.4, 65.1, 65.0, 64.9, 64.2, 63.9, 63.8, 63.7, 63.5,
   63.6, 63.8, 64.2, 64.3, 63.9, 64.1, 66.1, 66.4, 66.6, 65.3,
   64.2, 63.8, 63.3, 61.6, 60.7, 60.8, 63.9, 64.2, 64.1, 64.6,
   64.9, 64.8, 65.4, 65.7, 66.0, 65.6, 65.4, 65.8, 66.8, 68.1],
  [65.5,
   65.9, 66.9, 66.3, 66.6, 67.3, 67.3, 67.2, 67.5, 67.1, 67.1,
   66.9, 66.9, 66.8, 66.8, 67.2, 66.6, 66.4, 66.2, 66.0, 65.7,
   65.4, 65.5, 66.1, 66.1, 65.7, 65.7, 67.9, 67.9, 67.7, 66.9,
   66.4, 65.1, 64.9, 63.3, 62.8, 63.3, 64.8, 65.6, 66.5, 66.8,
   66.8, 65.9, 66.2, 66.4, 66.4, 65.4, 65.1, 64.9, 66.3, 67.5],
  [64.4,
   64.3, 65.1, 64.8, 65.4, 66.1, 65.8, 66.2, 66.5, 66.2, 65.8,
   65.6, 65.8, 65.6, 65.8, 65.6, 65.1, 64.8, 64.7, 64.7, 64.3,
   64.1, 64.3, 64.8, 65.0, 64.3, 64.8, 65.9, 66.5, 66.6, 65.7,
   64.6, 64.4, 63.4, 62.4, 60.5, 61.3, 64.2, 64.5, 64.3, 65.3,
   65.1, 64.8, 65.1, 66.3, 66.4, 67.3, 67.4, 67.1, 68.7, 69.8],
  [66.3,
   66.8, 67.7, 67.3, 67.8, 68.7, 68.7, 69.0, 68.9, 68.4, 68.5,
   68.6, 68.4, 68.5, 67.8, 67.9, 67.0, 66.7, 66.6, 66.2, 66.2,
   65.9, 65.9, 66.1, 65.8, 65.2, 65.0, 66.9, 67.1, 67.1, 66.8,
   66.4, 65.5, 64.9, 63.6, 63.7, 63.3, 63.3, 62.8, 62.7, 62.2,
   63.2, 62.8, 62.3, 62.2, 62.9, 62.9, 63.6, 64.5, 64.7, 64.7],
  [66.0,
   66.3, 66.8, 66.3, 66.6, 67.5, 67.6, 67.6, 67.3, 66.8, 66.6,
   66.9, 66.7, 66.8, 66.5, 66.4, 65.9, 65.5, 65.4, 65.1, 64.9,
   64.6, 64.7, 65.1, 64.9, 64.4, 64.4, 66.4, 66.4, 66.4, 66.1,
   65.7, 64.6, 63.6, 62.9, 62.4, 61.3, 61.6, 62.6, 63.0, 62.7,
   62.7, 62.9, 62.7, 62.3, 62.4, 61.8, 62.4, 61.9, 62.7, 63.4],
  [66.7, 67.2, 67.6, 67.9, 68.0, 68.4, 68.7, 69.0, 69.4, 69.5,
   69.6, 69.8, 70.1, 70.3, 70.6, 70.8, 70.9, 71.0, 71.0, 71.1,
   71.3, 71.8, 71.7, 71.6, 71.9, 71.9, 72.4, 72.6, 72.8, 73.2,
   73.8, 74.1, 74.6, 74.8, 74.7, 74.5, 74.9, 75.4, 75.5, 75.9],
  [67.0, 67.2, 67.3, 67.9, 68.6, 69.1, 69.3,
   69.5, 69.6, 69.5, 69.4, 70.1, 70.5, 71.0, 71.1, 71.2, 71.5,
   71.9, 72.2, 72.4, 72.6, 73.5, 73.9, 74.6, 75.0, 75.5, 75.4],
  [73.0, 73.2, 73.6, 73.7, 74.0, 74.3, 74.6,
   74.9, 74.9, 75.4, 75.1, 75.3, 75.6, 75.6, 76.0, 76.3, 76.3,
   76.7, 77.1, 77.5, 77.6, 78.0, 78.2, 78.6, 78.9, 79.1, 79.6],
  [66.2, 66.4, 66.7, 66.4, 67.0, 66.9, 67.0, 67.3, 67.3, 66.8,
   67.1, 67.2, 68.1, 68.0, 67.9, 68.4, 68.5, 68.8, 69.1, 69.5,
   69.1, 69.6, 69.9, 70.3, 70.2, 70.4, 70.5, 71.1, 71.5, 71.6,
   72.3, 71.8, 72.1, 72.2, 72.8, 73.1, 73.2, 73.9, 74.0, 74.3,
   74.8, 74.8, 74.7, 74.9, 75.8, 76.5, 76.7, 76.6, 77.9, 78.2]
];

// ---- layout ----
const svg = d3.select("#chart");
const x = d3.scaleLinear().domain([1950, 2010]).range([72, 577.5]);
const y = d3.scaleLinear().domain([50, 85]).range([455, 24.3]);

const toPoints = (values, start) => values.map((v, i) => [start + i, v]);
const line = d3.line().x(d => x(d[0])).y(d => y(d[1]));

// grid
const grid = svg.append("g").attr("stroke", "#b8b8b8").attr("stroke-width", 1)
  .attr("stroke-dasharray", "4,3").attr("fill", "none");
grid.selectAll("line.v").data(d3.range(1955, 2011, 5)).join("line")
  .attr("x1", d => x(d)).attr("x2", d => x(d)).attr("y1", y(50)).attr("y2", y(85));
grid.selectAll("line.h").data(d3.range(55, 86, 5)).join("line")
  .attr("x1", x(1950)).attr("x2", x(2010)).attr("y1", d => y(d)).attr("y2", d => y(d));

// grey background countries
const greyG = svg.append("g").attr("fill", "none").attr("stroke", "#c9c9c9")
  .attr("stroke-width", 2).attr("stroke-linejoin", "round").attr("stroke-linecap", "round");
otherMale.forEach((vals, i) => {
  greyG.append("path").attr("d", line(toPoints(vals, otherStart[i])))
    .attr("stroke-dasharray", "6,6");
});
otherFemale.forEach((vals, i) => {
  greyG.append("path").attr("d", line(toPoints(vals, otherStart[i])));
});

// highlighted countries
const hiG = svg.append("g").attr("fill", "none").attr("stroke-width", 2.2)
  .attr("stroke-linejoin", "round").attr("stroke-linecap", "round");
highlightNames.forEach((name, i) => {
  hiG.append("path").attr("d", line(toPoints(highlightMale[i], highlightStart[i])))
    .attr("stroke", highlightColors[i]).attr("stroke-dasharray", "6,6");
});
highlightNames.forEach((name, i) => {
  hiG.append("path").attr("d", line(toPoints(highlightFemale[i], highlightStart[i])))
    .attr("stroke", highlightColors[i]);
});

// axes
const fontSize = "17px";
const yMinor = svg.append("g").attr("transform", `translate(${x(1950)},0)`)
  .call(d3.axisLeft(y).tickValues(d3.range(50, 86, 1)).tickSize(10).tickSizeOuter(0).tickFormat(""));
yMinor.select(".domain").remove();
yMinor.selectAll(".tick line").attr("stroke", "#000").attr("stroke-width", 1.6);

const yMajor = svg.append("g").attr("transform", `translate(${x(1950)},0)`)
  .call(d3.axisLeft(y).tickValues(e0Ticks).tickSize(11).tickSizeOuter(0).tickPadding(8));
yMajor.select(".domain").attr("stroke", "#000").attr("stroke-width", 3);
yMajor.selectAll(".tick line").attr("stroke", "#000").attr("stroke-width", 3);
yMajor.selectAll(".tick text").attr("font-size", fontSize).attr("fill", "#111")
  .style("font-family", '"Liberation Sans", Arial, sans-serif');

const xMinor = svg.append("g").attr("transform", `translate(0,${y(50)})`)
  .call(d3.axisBottom(x).tickValues(d3.range(1950, 2011, 1)).tickSize(10).tickSizeOuter(0).tickFormat(""));
xMinor.select(".domain").remove();
xMinor.selectAll(".tick line").attr("stroke", "#000").attr("stroke-width", 1.6);

const xMajor = svg.append("g").attr("transform", `translate(0,${y(50)})`)
  .call(d3.axisBottom(x).tickValues(d3.range(1950, 2011, 5)).tickSize(10).tickSizeOuter(0)
    .tickPadding(13).tickFormat(d => yearTicks.includes(d) ? String(d) : ""));
xMajor.select(".domain").attr("stroke", "#000").attr("stroke-width", 3);
xMajor.selectAll(".tick line").attr("stroke", "#000").attr("stroke-width", 3);
xMajor.selectAll(".tick text").attr("font-size", fontSize).attr("fill", "#111")
  .style("font-family", '"Liberation Sans", Arial, sans-serif');

// axis titles
svg.append("text").attr("x", (x(1950) + x(2010)) / 2).attr("y", 517)
  .attr("text-anchor", "middle").attr("font-size", fontSize).attr("fill", "#111").text("Year");
const yt = svg.append("text").attr("transform", "translate(21,221) rotate(-90)")
  .attr("text-anchor", "middle").attr("font-size", fontSize).attr("fill", "#111");
yt.append("tspan").text("e");
yt.append("tspan").attr("font-size", "12px").attr("dy", "4").text("0");

// legend
const lg = svg.append("g");
lg.append("rect").attr("x", 86).attr("y", 32).attr("width", 125).attr("height", 86)
  .attr("fill", "#fff").attr("stroke", "#222").attr("stroke-width", 1.2);
highlightNames.forEach((name, i) => {
  const ly = 43.5 + i * 20.2;
  lg.append("line").attr("x1", 95).attr("x2", 126).attr("y1", ly).attr("y2", ly)
    .attr("stroke", highlightColors[i]).attr("stroke-width", 2.2);
  lg.append("text").attr("x", 141).attr("y", ly).attr("dy", "0.35em")
    .attr("font-size", fontSize).attr("fill", "#111").text(name);
});
</script>
</body>
</html>
